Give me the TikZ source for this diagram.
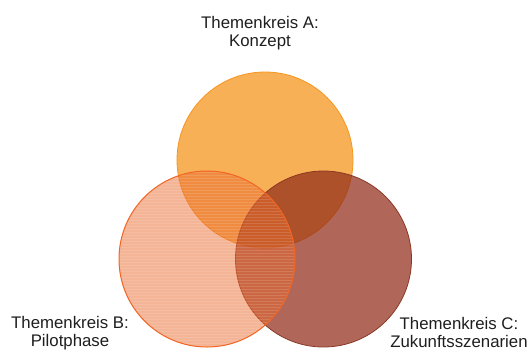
\documentclass[tikz,border=0pt]{standalone}
\usepackage{fontspec}
\setmainfont{Liberation Sans}
\definecolor{cA}{RGB}{245,150,30}
\definecolor{cAb}{RGB}{247,148,29}
\definecolor{cB}{RGB}{233,105,45}
\definecolor{cBb}{RGB}{242,101,34}
\definecolor{cC}{RGB}{145,45,26}
\definecolor{cCb}{RGB}{139,55,35}
\definecolor{txt}{RGB}{30,30,30}
\begin{document}
\begin{tikzpicture}[x=1bp,y=-1bp,
  circ/.style={circle, minimum size=176bp, inner sep=0pt, line width=0.8bp},
  hatchline/.style={white, opacity=0.13, line width=0.8bp},
  lbl/.style={align=center, text=txt, inner sep=0pt, font=\fontsize{16.8bp}{18bp}\selectfont}]
\useasboundingbox (0,0) rectangle (530,351);
\node[circ, fill=cA, fill opacity=0.75, draw=cAb] (A) at (265,160) {};
\node[circ, fill=cC, fill opacity=0.72, draw=cCb] (C) at (323.5,259) {};
\node[circ, fill=cB, fill opacity=0.5] (B) at (207,259) {};
\begin{scope}
  \clip (B.center) circle[radius=88bp];
  \foreach \yy in {172,175,...,347} \draw[hatchline] (119,\yy) -- (295,\yy);
\end{scope}
\draw[cBb, line width=1bp] (B.center) circle[radius=88bp];
\node[lbl, anchor=base] (tA) at (260,46) {Themenkreis A:\\Konzept};
\node[lbl, anchor=base] (tB) at (70,346.5) {Themenkreis B:\\Pilotphase};
\node[lbl, anchor=base] (tC) at (459,347) {Themenkreis C:\\Zukunftsszenarien};
\end{tikzpicture}
\end{document}
